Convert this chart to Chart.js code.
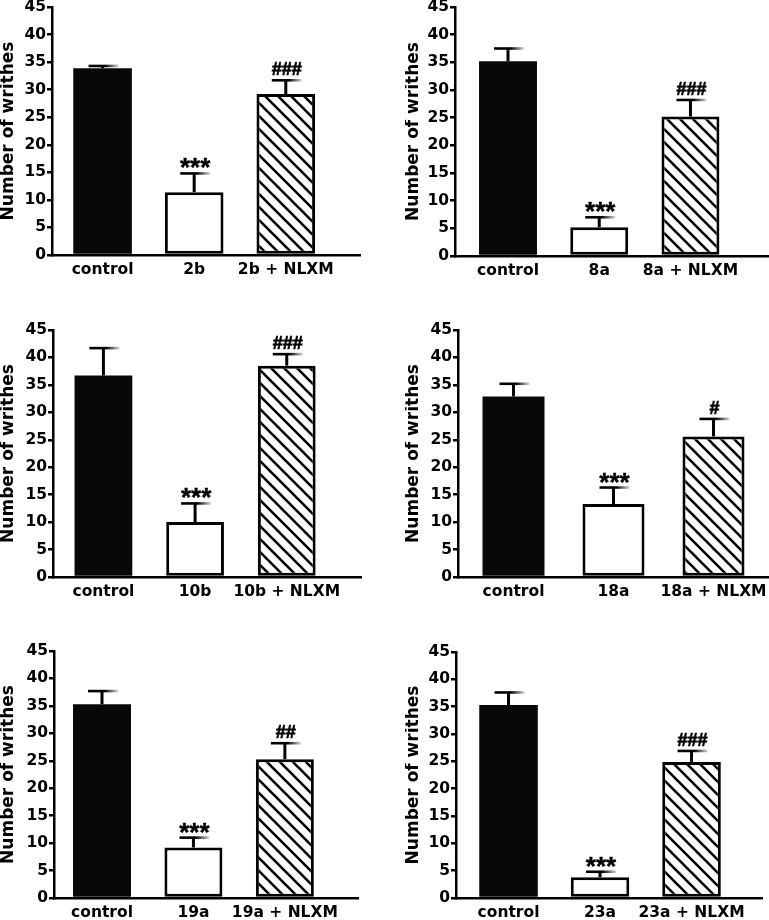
<!DOCTYPE html>
<html>
<head>
<meta charset="utf-8">
<script src="https://cdn.jsdelivr.net/npm/chart.js@4.4.1/dist/chart.umd.min.js"></script>
<style>
  html, body { margin: 0; padding: 0; background: #fff; }
  body { width: 769px; height: 920px; position: relative; overflow: hidden; }
  canvas { position: absolute; }
</style>
</head>
<body>
<script>
// Data: mean number of writhes, error bar drawn upward only
const compounds = ['2b', '8a', '10b', '18a', '19a', '23a'];
const controlMeans = [33.9, 35.2, 36.7, 32.9, 35.3, 35.3];
const controlErrors = [0.4, 2.3, 5.0, 2.3, 2.4, 2.3];
const compoundMeans = [11.4, 5.2, 10.0, 13.3, 9.2, 3.8];
const compoundErrors = [3.4, 1.8, 3.4, 3.0, 1.8, 1.0];
const nlxmMeans = [29.2, 25.2, 38.5, 25.6, 25.3, 24.9];
const nlxmErrors = [2.5, 3.0, 2.1, 3.2, 2.9, 2.0];
const compoundMarks = ['***', '***', '***', '***', '***', '***'];
const nlxmMarks = ['###', '###', '###', '#', '##', '###'];
const yMin = 0;
const yMax = 45;
const yStep = 5;
const yTitle = 'Number of writhes';

// Page layout of the six panels
const canvasBoxes = [
    { left: 0, top: 0, width: 370, height: 292 },
    { left: 405, top: 0, width: 364, height: 292 },
    { left: 0, top: 305, width: 370, height: 300 },
    { left: 405, top: 305, width: 364, height: 300 },
    { left: 0, top: 625, width: 370, height: 295 },
    { left: 405, top: 625, width: 364, height: 295 }
];
const plotAreas = [
    { l: 52, t: 7, r: 360, b: 255 },
    { l: 455, t: 7, r: 768, b: 256 },
    { l: 53, t: 330, r: 361, b: 577 },
    { l: 458, t: 330, r: 768, b: 577 },
    { l: 54, t: 651, r: 358, b: 898 },
    { l: 456, t: 652, r: 762, b: 898 }
];
const xRanges = [[0.448, 3.81], [0.419, 3.85], [0.45, 3.81], [0.445, 3.545], [0.475, 3.80], [0.426, 3.77]];
const barFractions = [0.64, 0.635, 0.63, 0.62, 0.634, 0.64];

const AXIS_FONT = '"DejaVu Sans", Verdana, sans-serif';
const MARK_FONT = '"Liberation Sans", Arial, sans-serif';

function makeHatch() {
    const s = 13;
    const c = document.createElement('canvas');
    c.width = s;
    c.height = s;
    const g = c.getContext('2d');
    g.fillStyle = '#fff';
    g.fillRect(0, 0, s, s);
    g.strokeStyle = '#000';
    g.lineWidth = 2.6;
    g.beginPath();
    g.moveTo(-2, -2); g.lineTo(s + 2, s + 2);
    g.moveTo(-2, s - 2); g.lineTo(2, s + 2);
    g.moveTo(s - 2, -2); g.lineTo(s + 2, 2);
    g.stroke();
    return g.createPattern(c, 'repeat');
}

// upward error bars with half-faded cap, plus significance marks
const errorBarPlugin = {
    id: 'errorBars',
    afterDatasetsDraw(chart) {
        const ctx = chart.ctx;
        const ds = chart.data.datasets[0];
        const meta = chart.getDatasetMeta(0);
        const yScale = chart.scales.y;
        ctx.save();
        meta.data.forEach((bar, i) => {
            const x = bar.x;
            const top = yScale.getPixelForValue(ds.data[i].y + ds.errors[i]);
            ctx.lineCap = 'butt';
            ctx.strokeStyle = '#000';
            ctx.lineWidth = 3;
            ctx.beginPath();
            ctx.moveTo(x, bar.y);
            ctx.lineTo(x, top);
            ctx.stroke();

            const grad = ctx.createLinearGradient(x - 14, 0, x + 16, 0);
            grad.addColorStop(0, '#000');
            grad.addColorStop(0.55, '#000');
            grad.addColorStop(1, '#d8d8d8');
            ctx.strokeStyle = grad;
            ctx.lineWidth = 2.6;
            ctx.beginPath();
            ctx.moveTo(x - 14, top);
            ctx.lineTo(x + 16, top);
            ctx.stroke();

            const mark = ds.marks[i];
            if (mark) {
                const stars = mark[0] === '*';
                ctx.font = stars ? 'bold 26px ' + MARK_FONT : 'bold 18px ' + MARK_FONT;
                ctx.fillStyle = '#000';
                ctx.strokeStyle = '#000';
                ctx.lineWidth = stars ? 0.4 : 0.7;
                ctx.textAlign = 'center';
                ctx.textBaseline = 'alphabetic';
                const m = ctx.measureText(mark);
                const ty = top - 5 - m.actualBoundingBoxDescent;
                ctx.fillText(mark, x + 1, ty);
                ctx.strokeText(mark, x + 1, ty);
            }
        });
        ctx.restore();
    }
};

const hatch = makeHatch();

compounds.forEach((cmp, p) => {
    const box = canvasBoxes[p];
    const area = plotAreas[p];
    const canvas = document.createElement('canvas');
    canvas.width = box.width;
    canvas.height = box.height;
    canvas.style.left = box.left + 'px';
    canvas.style.top = box.top + 'px';
    document.body.appendChild(canvas);

    const labels = ['control', cmp, cmp + ' + NLXM'];
    const means = [controlMeans[p], compoundMeans[p], nlxmMeans[p]];

    new Chart(canvas.getContext('2d'), {
        type: 'bar',
        data: {
            datasets: [{
                data: means.map((v, i) => ({ x: i + 1, y: v })),
                errors: [controlErrors[p], compoundErrors[p], nlxmErrors[p]],
                marks: ['', compoundMarks[p], nlxmMarks[p]],
                backgroundColor: ['#080808', '#ffffff', hatch],
                borderColor: '#000',
                borderWidth: [0, 3, 3],
                borderSkipped: false,
                categoryPercentage: 1,
                barPercentage: barFractions[p]
            }]
        },
        options: {
            responsive: false,
            animation: false,
            events: [],
            layout: {
                padding: {
                    left: 0,
                    bottom: 0,
                    top: area.t - box.top,
                    right: box.left + box.width - area.r
                }
            },
            plugins: {
                legend: { display: false },
                tooltip: { enabled: false }
            },
            scales: {
                x: {
                    type: 'linear',
                    min: xRanges[p][0],
                    max: xRanges[p][1],
                    offset: false,
                    grid: { display: false, offset: false, drawTicks: false },
                    border: { display: true, color: '#000', width: 2.5 },
                    afterBuildTicks: s => { s.ticks = [{ value: 1 }, { value: 2 }, { value: 3 }]; },
                    ticks: {
                        autoSkip: false,
                        maxRotation: 0,
                        padding: 6,
                        color: '#000',
                        font: { family: AXIS_FONT, size: 15.5, weight: 'bold' },
                        callback: (v, i) => labels[i]
                    },
                    afterFit: s => {
                        s.height = box.top + box.height - area.b;
                        s.paddingLeft = 0;
                        s.paddingRight = 0;
                    }
                },
                y: {
                    min: yMin,
                    max: yMax,
                    grid: {
                        drawOnChartArea: false,
                        drawTicks: true,
                        tickLength: 5,
                        lineWidth: 2.5,
                        color: '#000'
                    },
                    border: { display: true, color: '#000', width: 2.5 },
                    ticks: {
                        stepSize: yStep,
                        padding: 1,
                        color: '#000',
                        font: { family: AXIS_FONT, size: 15.5, weight: 'bold' }
                    },
                    title: {
                        display: true,
                        text: yTitle,
                        color: '#000',
                        padding: 0,
                        font: { family: AXIS_FONT, size: 17, weight: 'bold', lineHeight: 1 }
                    },
                    afterFit: s => {
                        s.width = area.l - box.left;
                        s.paddingTop = 0;
                        s.paddingBottom = 0;
                    }
                }
            }
        },
        plugins: [errorBarPlugin]
    });
});
</script>
</body>
</html>
